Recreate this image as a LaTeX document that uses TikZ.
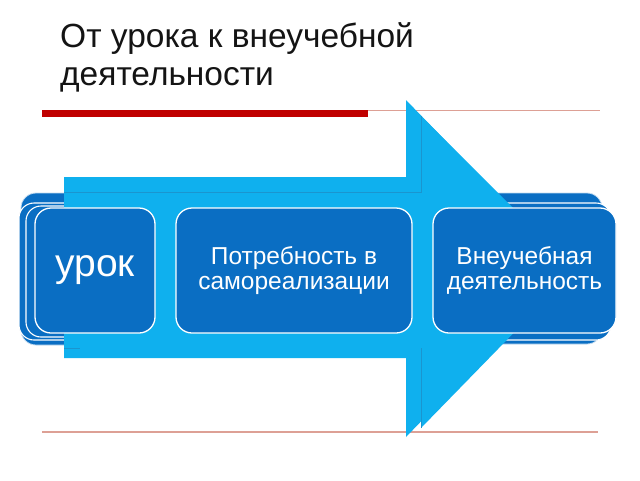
\documentclass[tikz,border=0pt]{standalone}
\usepackage{fontspec}
\setmainfont{Liberation Sans}
\definecolor{boxblue}{HTML}{0A6EC3}
\definecolor{arrowblue}{HTML}{0FB0EE}
\definecolor{arrowline}{HTML}{1A95CF}
\definecolor{barred}{HTML}{C00000}
\definecolor{thinred}{HTML}{DDA095}
\begin{document}
\begin{tikzpicture}[x=1pt,y=-1pt,
  card/.style={fill=boxblue, draw=white, line width=1.3pt, rounded corners=16pt, inner sep=0pt},
  backcard/.style={fill=boxblue, draw=white!75!boxblue, line width=0.8pt, rounded corners=15pt},
  backcardw/.style={fill=boxblue, draw=white, line width=1.1pt, rounded corners=15pt},
  boxtext/.style={text=white, font=\fontsize{24.5}{25.5}\selectfont, align=center},
  titletext/.style={text=black!92, font=\fontsize{33.5}{38}\selectfont, inner sep=0pt},
  seam/.style={draw=arrowline, line width=0.6pt}]
\useasboundingbox (0,0) rectangle (640,480);
\fill[white] (0,0) rectangle (640,480);
% title
\node[titletext, anchor=base west] (t1) at (60,47) {От урока к внеучебной};
\node[titletext, anchor=base west] (t2) at (60,85) {деятельности};
% rules
\draw[thinred, line width=1pt] (42,110) -- (600,110);
\fill[barred] (42,110) rectangle (368,117);
\draw[thinred, line width=1.2pt] (42,432) -- (598,432);
% back cards left
\path[backcard] (21,193) rectangle (150,345);
\path[backcardw] (19,203) rectangle (145,340);
\path[backcardw] (26,206) rectangle (150,337);
% back cards right
\path[backcard] (430,193) rectangle (602,344);
\path[backcardw] (436,203) rectangle (611,340);
% arrows
\fill[arrowblue] (64,177) -- (406,177) -- (406,100) -- (569,268) -- (406,437) -- (406,358) -- (64,358) -- cycle;
\fill[arrowblue] (64,192) -- (421,192) -- (421,116) -- (575,270) -- (421,428) -- (421,348) -- (64,348) -- cycle;
\path[seam] (64,192) -- (421,192) -- (421,116);
\path[seam] (421,348) -- (421,428);
\path[seam] (64,348) -- (80,348);
% front boxes
\node[card, minimum width=120pt, minimum height=125pt] (urok) at (95,270.5) {};
\node[text=white, font=\fontsize{39}{40}\selectfont] (urokt) at (95,270.5) {урок};
\node[card, minimum width=236pt, minimum height=125pt] (need) at (294,270.5) {};
\node[boxtext] (needt) at (294,270.5) {Потребность в\\самореализации};
\node[card, minimum width=183pt, minimum height=125pt] (extra) at (524.5,270.5) {};
\node[boxtext] (extrat) at (524.5,270.5) {Внеучебная\\деятельность};
\end{tikzpicture}
\end{document}
